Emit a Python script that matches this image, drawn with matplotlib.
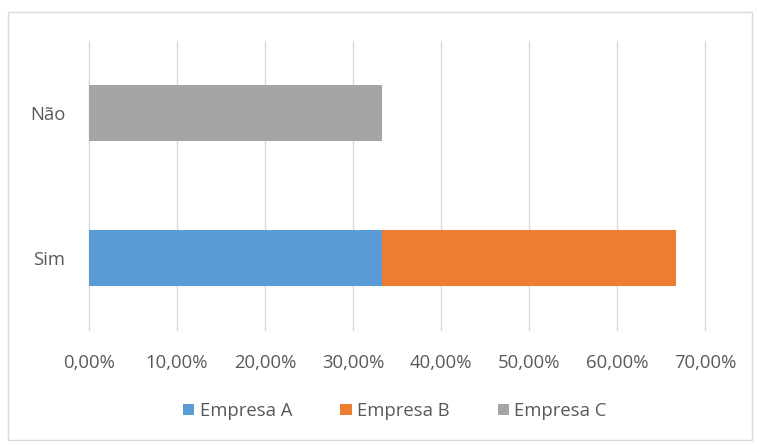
import matplotlib.pyplot as plt
from matplotlib.patches import Rectangle
from matplotlib.ticker import FuncFormatter

categorias = ['Sim', 'Não']
empresa_a = [33.33, 0.0]
empresa_b = [33.33, 0.0]
empresa_c = [0.0, 33.33]
series = [('Empresa A', empresa_a, '#5b9bd5'),
          ('Empresa B', empresa_b, '#ed7d31'),
          ('Empresa C', empresa_c, '#a5a5a5')]

plt.rcParams['font.family'] = ['Open Sans', 'DejaVu Sans']
texto = '#595959'

fig = plt.figure(figsize=(7.57, 4.45), dpi=100)
fig.patches.append(Rectangle((8 / 757, 5 / 445), 744 / 757, 428 / 445,
                             transform=fig.transFigure, fill=False,
                             edgecolor='#d9d9d9', linewidth=1))
ax = fig.add_axes([89 / 757, 1 - 330 / 445, 616 / 757, 289 / 445])

pos = list(range(len(categorias)))
esquerda = [0.0] * len(categorias)
for nome, valores, cor in series:
    ax.barh(pos, valores, height=0.39, left=esquerda, color=cor,
            label=nome, zorder=3)
    esquerda = [e + v for e, v in zip(esquerda, valores)]

ax.set_xlim(0, 70)
ax.set_ylim(-0.5, 1.5)
ax.set_xticks(range(0, 71, 10))
ax.xaxis.set_major_formatter(FuncFormatter(lambda v, p: f'{v:.2f}%'.replace('.', ',')))
ax.set_yticks(pos)
ax.set_yticklabels(categorias)
ax.grid(axis='x', color='#d9d9d9', linewidth=1, zorder=0)
for g in ax.get_xgridlines():
    g.set_clip_on(False)
ax.tick_params(length=0, labelsize=13.3, colors=texto)
ax.tick_params(axis='x', pad=17)
ax.tick_params(axis='y', pad=17)
for s in ax.spines.values():
    s.set_visible(False)

leg = fig.legend(loc='center', bbox_to_anchor=(395 / 757, 1 - 411 / 445),
                 ncol=3, frameon=False, fontsize=13.3, handlelength=0.6,
                 handleheight=0.6, handletextpad=0.3, columnspacing=2.6)
for t in leg.get_texts():
    t.set_color(texto)

fig.savefig('out.png', dpi=100)
